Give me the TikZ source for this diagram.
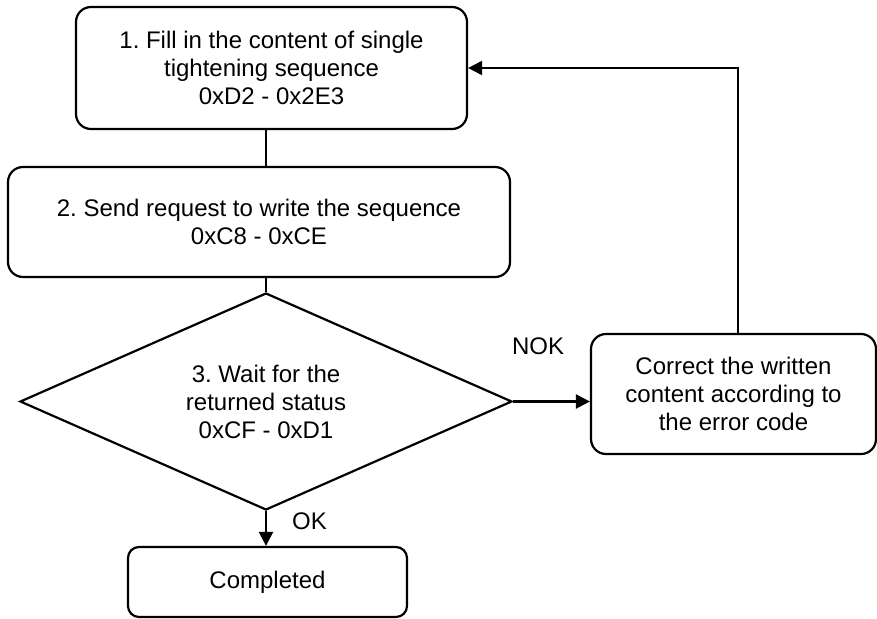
\documentclass[tikz,border=0pt]{standalone}
\usepackage{fontspec}
\setmainfont{Liberation Sans}
\usetikzlibrary{shapes.geometric,arrows.meta}

\begin{document}
\frenchspacing
\begin{tikzpicture}[
  x=1pt, y=-1pt,
  txt/.style={font=\fontsize{24}{28}\selectfont},
  stepbox/.style={txt, draw=black, line width=2.2pt, rounded corners=15pt, align=center, inner sep=0pt},
  decision/.style={txt, diamond, draw=black, line width=2.2pt, aspect=2.27, align=center, inner sep=0pt},
  flow/.style={line width=2.2pt, black},
  flowarrow/.style={flow, -{Triangle[length=14pt,width=14pt]}},
  lbl/.style={txt, inner sep=0pt}
]
\useasboundingbox (0,0) rectangle (877,618);

% === Steps ===
\node[stepbox, minimum width=391, minimum height=122] (fill) at (271.5,68)
  {1. Fill in the content of single\\tightening sequence\\0xD2 - 0x2E3};
\node[stepbox, minimum width=502, minimum height=110] (send) at (259,222)
  {2. Send request to write the sequence\\0xC8 - 0xCE};
\node[decision, minimum width=492, minimum height=217] (wait) at (266,401.5)
  {3. Wait for the\\returned status\\0xCF - 0xD1};
\node[stepbox, minimum width=285, minimum height=120] (fix) at (733.5,394)
  {Correct the written\\content according to\\the error code};
\node[stepbox, rounded corners=11pt, minimum width=279, minimum height=70] (done) at (267.5,582)
  {Completed};

% === Connectors ===
\draw[flow] (fill.south -| wait.north) -- (send.north -| wait.north);
\draw[flow] (send.south -| wait.north) -- (wait.north);
\draw[flowarrow] (wait.east) -- (fix.west |- wait.east);
\draw[flowarrow] ([xshift=4.5pt]fix.north) |- (fill.east);
\draw[flowarrow] (wait.south) -- (wait.south |- done.north);

% Labels
\node[lbl] (nok) at (538,346) {NOK};
\node[lbl, anchor=west] (ok) at (292,521) {OK};

\end{tikzpicture}
\end{document}
